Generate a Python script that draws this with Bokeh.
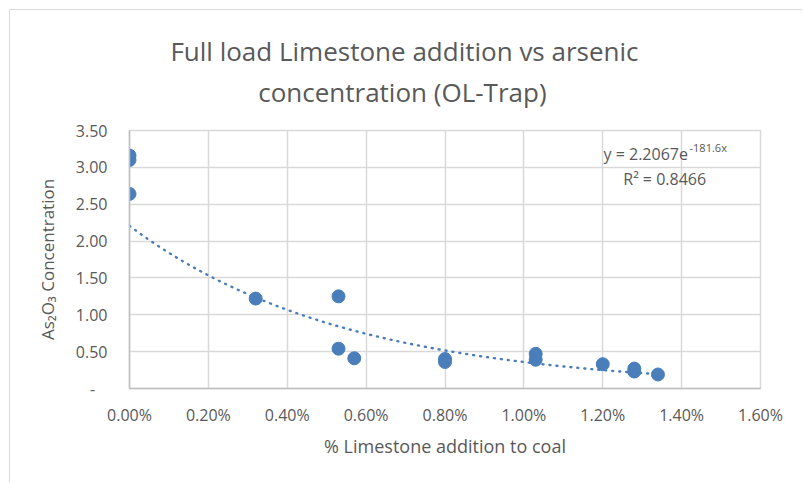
import numpy as np
from bokeh.plotting import figure
from bokeh.models import (ColumnDataSource, NumeralTickFormatter, FixedTicker,
                          Title, Label, Range1d)
from bokeh.embed import file_html
from bokeh.resources import INLINE

# ---- data ----
limestone_pct = [0.0000, 0.0000, 0.0000, 0.0032, 0.0053, 0.0053, 0.0057,
                 0.0080, 0.0080, 0.0103, 0.0103, 0.0120, 0.0128, 0.0128, 0.0134]
as2o3_conc = [3.16, 3.10, 2.64, 1.22, 1.25, 0.54, 0.41,
              0.40, 0.36, 0.47, 0.39, 0.33, 0.27, 0.23, 0.19]

# trendline y = a * exp(b * x)
fit_a = 2.2067
fit_b = -181.6

x_ticks = [0.000, 0.002, 0.004, 0.006, 0.008, 0.010, 0.012, 0.014, 0.016]
y_ticks = [0.0, 0.5, 1.0, 1.5, 2.0, 2.5, 3.0, 3.5]

title_line1 = "Full load Limestone addition vs arsenic"
title_line2 = "concentration (OL-Trap)"
x_label = "% Limestone addition to coal"
y_label = "As\u2082O\u2083 Concentration"

BLUE = "#4a7ebb"
GREY_TXT = "#595959"
GRID = "#d9d9d9"
FONT = "Open Sans"

W, H = 793, 473
p = figure(width=W, height=H, output_backend="svg", toolbar_location=None,
           x_range=Range1d(0, 0.016), y_range=Range1d(0, 3.5),
           min_border_left=119, min_border_right=43,
           min_border_bottom=95, min_border_top=119)
p.styles = {"margin-left": "9px", "margin-top": "9px",
            "border-left": "1px solid #d9d9d9", "border-top": "1px solid #d9d9d9"}

p.outline_line_color = GRID
p.outline_line_width = 1.5

# two-line title, centred a little left of the plot-area centre (as in the original)
pad = "\u00a0" * 12
indent = "\u00a0" * 13
title = Title(text=title_line1 + pad + "\n" + indent + title_line2, align="center",
              text_font=FONT, text_font_size="26px", text_font_style="normal",
              text_color=GREY_TXT, text_line_height=1.16, standoff=40)
p.add_layout(title, "above")

# trendline
xs = np.linspace(0, max(limestone_pct), 200)
ys = fit_a * np.exp(fit_b * xs)
p.line(xs, ys, line_color=BLUE, line_width=2.4, line_dash="1 6", line_cap="round")

# points
src = ColumnDataSource(dict(x=limestone_pct, y=as2o3_conc))
p.scatter("x", "y", source=src, size=13, fill_color=BLUE, line_color=BLUE)

# axes
p.xaxis.ticker = FixedTicker(ticks=x_ticks)
p.yaxis.ticker = FixedTicker(ticks=y_ticks)
p.xaxis.formatter = NumeralTickFormatter(format="0.00%")
p.yaxis.formatter = NumeralTickFormatter(format="0.00")
p.yaxis.major_label_overrides = {0: "-\u00a0\u00a0\u00a0"}

for ax in (p.xaxis[0], p.yaxis[0]):
    ax.major_tick_line_color = None
    ax.minor_tick_line_color = None
    ax.major_tick_in = 0
    ax.major_tick_out = 0
    ax.minor_tick_in = 0
    ax.minor_tick_out = 0
    ax.axis_line_color = "#bfbfbf"
    ax.axis_line_width = 1.5
    ax.major_label_text_font = FONT
    ax.major_label_text_font_size = "16px"
    ax.major_label_text_color = GREY_TXT
    ax.axis_label_text_font = FONT
    ax.axis_label_text_font_size = "17px"
    ax.axis_label_text_font_style = "normal"
    ax.axis_label_text_color = GREY_TXT

p.xaxis.axis_label = x_label
p.yaxis.axis_label = y_label
p.xaxis.axis_label_text_font_size = "18px"
p.xaxis.major_label_standoff = 15
p.yaxis.major_label_standoff = 22
p.xaxis.axis_label_standoff = 5
p.yaxis.axis_label_standoff = 14

p.xgrid.ticker = FixedTicker(ticks=x_ticks)
p.ygrid.ticker = FixedTicker(ticks=y_ticks)
p.xgrid.grid_line_color = GRID
p.ygrid.grid_line_color = GRID
p.xgrid.grid_line_width = 1.5
p.ygrid.grid_line_width = 1.5

# equation labels
eq = Label(x=0.01202, y=3.18, text="y = 2.2067e", text_font=FONT, text_font_size="16px",
           text_color=GREY_TXT, text_baseline="alphabetic")
eq_sup = Label(x=0.01202, y=3.18, x_offset=86, y_offset=7, text="-181.6x", text_font=FONT,
               text_font_size="11px", text_color=GREY_TXT, text_baseline="alphabetic")
r2 = Label(x=0.01252, y=2.84, text="R\u00b2 = 0.8466", text_font=FONT, text_font_size="16px",
           text_color=GREY_TXT, text_baseline="alphabetic")
for lab in (eq, eq_sup, r2):
    p.add_layout(lab)

p.background_fill_color = "white"
p.border_fill_color = "white"

open("out.html", "w").write(file_html(p, INLINE))
